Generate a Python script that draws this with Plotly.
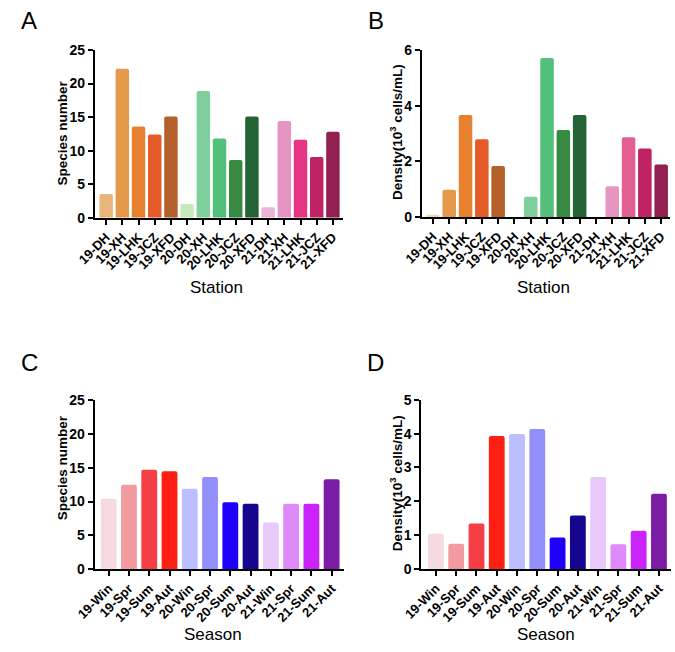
import plotly.graph_objects as go

W, H = 675, 652

stations = ["19-DH", "19-XH", "19-LHK", "19-JCZ", "19-XFD",
            "20-DH", "20-XH", "20-LHK", "20-JCZ", "20-XFD",
            "21-DH", "21-XH", "21-LHK", "21-JCZ", "21-XFD"]
station_species = [3.55, 22.2, 13.6, 12.4, 15.1,
                   2.05, 18.9, 11.8, 8.6, 15.1,
                   1.55, 14.4, 11.6, 9.05, 12.8]
station_density = [0.08, 0.98, 3.67, 2.80, 1.84,
                   0.0, 0.73, 5.72, 3.13, 3.67,
                   0.0, 1.11, 2.87, 2.47, 1.89]

seasons = ["19-Win", "19-Spr", "19-Sum", "19-Aut",
           "20-Win", "20-Spr", "20-Sum", "20-Aut",
           "21-Win", "21-Spr", "21-Sum", "21-Aut"]
season_species = [10.4, 12.5, 14.7, 14.5, 11.9, 13.65, 9.9, 9.65, 6.9, 9.65, 9.65, 13.3]
season_density = [1.04, 0.74, 1.34, 3.93, 3.99, 4.14, 0.93, 1.58, 2.72, 0.73, 1.13, 2.22]

colors_A = ["#e8b57a", "#e5994b", "#e7802f", "#e55b28", "#b5602a",
            "#c8eabb", "#7ecf9c", "#52c07b", "#378a41", "#236335",
            "#eab4d6", "#e694c2", "#e33582", "#bf2366", "#922151"]
colors_B = ["#f0d9b0", "#e5994b", "#e7802f", "#e55b28", "#b5602a",
            "#c8eabb", "#7ecf9c", "#52c07b", "#378a41", "#236335",
            "#eab4d6", "#e694c2", "#e35f93", "#bf2366", "#922151"]
colors_season = ["#f5dbdf", "#f19ba0", "#f53f45", "#ff1e12",
                 "#bdbefe", "#928ffd", "#1f00fb", "#16058e",
                 "#e9c9fb", "#de8afb", "#cb23fb", "#7b1ba6"]

FONT = "Arial, Liberation Sans, Helvetica, sans-serif"

fig = go.Figure()

def px_x(a, b):
    return [a / W, b / W]

def px_y(top, bottom):
    return [1 - bottom / H, 1 - top / H]

panels = [
    dict(cats=stations, vals=station_species, cols=colors_A, xd=px_x(78, 333), yd=px_y(43, 215),
         yr=[0, 25], dt=5, xr=[-0.7, 14.6], w=0.83),
    dict(cats=stations, vals=station_density, cols=colors_B, xd=px_x(414.5, 670), yd=px_y(43.3, 214.3),
         yr=[0, 6], dt=2, xr=[-0.68, 14.55], w=0.83),
    dict(cats=seasons, vals=season_species, cols=colors_season, xd=px_x(77.7, 334), yd=px_y(402.3, 575),
         yr=[0, 25], dt=5, xr=[-0.7, 11.59], w=0.78),
    dict(cats=seasons, vals=season_density, cols=colors_season, xd=px_x(414, 671), yd=px_y(401.7, 575),
         yr=[0, 5], dt=1, xr=[-0.72, 11.6], w=0.78),
]

for i, p in enumerate(panels):
    n = "" if i == 0 else str(i + 1)
    fig.add_trace(go.Bar(
        x=list(range(len(p["cats"]))), y=p["vals"],
        marker=dict(color=p["cols"], line=dict(width=0), cornerradius=2),
        width=p["w"], xaxis="x" + n, yaxis="y" + n, showlegend=False,
    ))
    fig.layout["xaxis" + n] = dict(
        domain=p["xd"], anchor="y" + n, range=p["xr"],
        tickmode="array", tickvals=list(range(len(p["cats"]))), ticktext=p["cats"],
        tickangle=-45, ticks="outside", ticklen=5, tickwidth=1.5, tickcolor="black",
        showline=True, linecolor="black", linewidth=1.8, showgrid=False, zeroline=False,
        tickfont=dict(family=FONT, size=13, color="black", weight="bold"),
        fixedrange=True,
    )
    fig.layout["yaxis" + n] = dict(
        domain=p["yd"], anchor="x" + n, range=p["yr"], dtick=p["dt"], tick0=0,
        ticks="outside", ticklen=5, tickwidth=1.5, tickcolor="black",
        showline=True, linecolor="black", linewidth=1.8, showgrid=False, zeroline=False,
        tickfont=dict(family=FONT, size=14, color="black", weight="bold"),
        fixedrange=True,
    )

annotations = []
def ann(text, x, y, size, angle=0, bold=False):
    annotations.append(dict(
        text=text, x=x / W, y=1 - y / H, xref="paper", yref="paper",
        showarrow=False, textangle=angle, xanchor="center", yanchor="middle",
        font=dict(family=FONT, size=size, color="black", weight="bold" if bold else "normal"),
    ))

# panel letters
ann("A", 10, 13, 24)
ann("B", 367, 13, 24)
ann("C", 10.5, 363, 24)
ann("D", 367, 363, 24)
# y-axis titles
ann("Species number", 45, 128, 13.5, -90, True)
ann("Density(10<sup>3</sup> cells/mL)", 388, 127, 13.5, -90, True)
ann("Species number", 45, 471, 13.5, -90, True)
ann("Density(10<sup>3</sup> cells/mL)", 388, 487, 13.5, -90, True)
# x-axis titles
ann("Station", 203, 287, 17)
ann("Station", 540, 287, 17)
ann("Season", 200, 642, 17)
ann("Season", 542, 642, 17)

fig.update_layout(
    width=W, height=H, margin=dict(l=0, r=0, t=0, b=0),
    paper_bgcolor="white", plot_bgcolor="white",
    annotations=annotations, bargap=0.2,
)

fig.write_html("out.html", config={"displayModeBar": False},
               post_script="document.body.style.margin='0';document.body.style.overflow='hidden';")
